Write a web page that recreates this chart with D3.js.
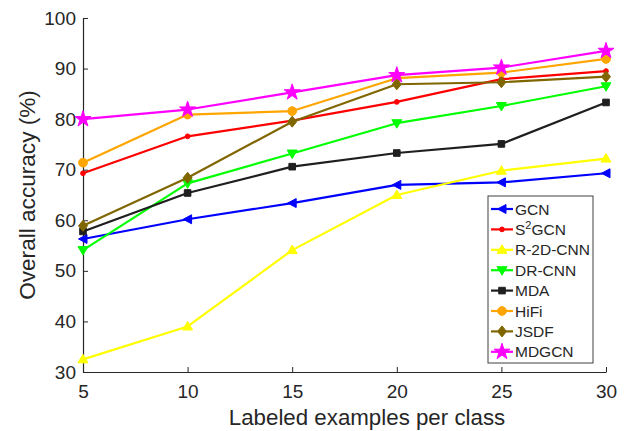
<!DOCTYPE html>
<html>
<head>
<meta charset="utf-8">
<script src="https://cdn.jsdelivr.net/npm/d3@7"></script>
<style>
  html, body { margin: 0; padding: 0; background: #fff; }
  svg { display: block; font-family: "Liberation Sans", Arial, Helvetica, sans-serif; }
</style>
</head>
<body>
<svg id="chart" width="628" height="431"></svg>
<script>
// Labeled examples per class
const samples = [5, 10, 15, 20, 25, 30];

// Overall accuracy (%) for each method
const gcn     = [56.3, 60.2, 63.4, 67.0, 67.5, 69.3];
const s2gcn   = [69.3, 76.6, 79.7, 83.4, 87.9, 89.5];
const r2dcnn  = [32.5, 39.0, 54.1, 65.0, 69.8, 72.2];
const drcnn   = [54.1, 67.3, 73.2, 79.2, 82.6, 86.5];
const mda     = [57.8, 65.4, 70.6, 73.3, 75.1, 83.3];
const hifi    = [71.4, 80.9, 81.6, 88.1, 89.2, 91.9];
const jsdf    = [58.9, 68.4, 79.5, 86.9, 87.3, 88.4];
const mdgcn   = [80.0, 81.9, 85.3, 88.7, 90.2, 93.5];

const xTicks = [5, 10, 15, 20, 25, 30];
const yTicks = [30, 40, 50, 60, 70, 80, 90, 100];

const series = [
  { name: "GCN",      values: gcn,    color: "#0000ff", marker: "left" },
  { name: "S2GCN",    values: s2gcn,  color: "#ff0000", marker: "dot" },
  { name: "R-2D-CNN", values: r2dcnn, color: "#ffff00", marker: "up" },
  { name: "DR-CNN",   values: drcnn,  color: "#00ff00", marker: "down" },
  { name: "MDA",      values: mda,    color: "#1f1f1f", marker: "square" },
  { name: "HiFi",     values: hifi,   color: "#ffa500", marker: "circle" },
  { name: "JSDF",     values: jsdf,   color: "#806600", marker: "diamond" },
  { name: "MDGCN",    values: mdgcn,  color: "#ff00ff", marker: "star" }
];

const svg = d3.select("#chart");
const margin = { left: 83, right: 22, top: 18, bottom: 59 };
const W = 628, H = 431;

const x = d3.scaleLinear().domain([5, 30]).range([margin.left, W - margin.right]);
const y = d3.scaleLinear().domain([30, 100]).range([H - margin.bottom, margin.top]);

const axisColor = "#262626";

// Axes with inward ticks
const xAxis = svg.append("g")
  .attr("transform", `translate(0,${y(30)})`)
  .call(d3.axisBottom(x).tickValues(xTicks).tickSizeInner(-5).tickSizeOuter(0).tickPadding(13));
const yAxis = svg.append("g")
  .attr("transform", `translate(${x(5)},0)`)
  .call(d3.axisLeft(y).tickValues(yTicks).tickSizeInner(-5).tickSizeOuter(0).tickPadding(7));

[xAxis, yAxis].forEach(g => {
  g.select(".domain").attr("stroke", axisColor).attr("stroke-width", 1.2);
  g.selectAll(".tick line").attr("stroke", axisColor).attr("stroke-width", 1);
  g.selectAll(".tick text")
    .attr("fill", axisColor)
    .style("font-size", "19px")
    .style("font-family", "'Liberation Sans', Arial, sans-serif");
});

// Axis titles
svg.append("text")
  .attr("x", 367)
  .attr("y", 425)
  .attr("text-anchor", "middle")
  .attr("fill", axisColor)
  .style("font-size", "22.3px")
  .text("Labeled examples per class");

svg.append("text")
  .attr("transform", `translate(35,${(y(30) + y(100)) / 2}) rotate(-90)`)
  .attr("text-anchor", "middle")
  .attr("fill", axisColor)
  .style("font-size", "22.6px")
  .text("Overall accuracy (%)");

// Marker shapes
function markerPath(type) {
  switch (type) {
    case "left":    return "M-4.5,0L4,-4.5L4,4.5Z";
    case "up":      return "M0,-5L5,3.5L-5,3.5Z";
    case "down":    return "M0,5L5,-3.5L-5,-3.5Z";
    case "square":  return "M-3.3,-3.3L3.3,-3.3L3.3,3.3L-3.3,3.3Z";
    case "diamond": return "M0,-5.5L4.5,0L0,5.5L-4.5,0Z";
    case "circle":  return d3.symbol(d3.symbolCircle, 60)();
    case "dot":     return d3.symbol(d3.symbolCircle, 18)();
    case "star":    return d3.symbol(d3.symbolStar, 80)();
  }
}

const line = d3.line().x((d, i) => x(samples[i])).y(d => y(d));

const plot = svg.append("g");
series.forEach(s => {
  const g = plot.append("g");
  g.append("path")
    .datum(s.values)
    .attr("fill", "none")
    .attr("stroke", s.color)
    .attr("stroke-width", 2.2)
    .attr("stroke-linejoin", "round")
    .attr("d", line);
  g.selectAll("path.m")
    .data(s.values)
    .join("path")
    .attr("class", "m")
    .attr("transform", (d, i) => `translate(${x(samples[i])},${y(d)})`)
    .attr("d", markerPath(s.marker))
    .attr("fill", s.color)
    .attr("stroke", s.color)
    .attr("stroke-width", 1);
});

// Legend
const lg = svg.append("g");
const lx = 488, ly = 196, lw = 105, lh = 167, rowH = 20.4;
lg.append("rect")
  .attr("x", lx).attr("y", ly).attr("width", lw).attr("height", lh)
  .attr("fill", "#fff").attr("stroke", "#404040").attr("stroke-width", 1);

series.forEach((s, i) => {
  const cy = ly + 13 + i * rowH;
  lg.append("line")
    .attr("x1", lx + 3).attr("x2", lx + 25).attr("y1", cy).attr("y2", cy)
    .attr("stroke", s.color).attr("stroke-width", 2.2);
  lg.append("path")
    .attr("transform", `translate(${lx + 14},${cy})`)
    .attr("d", markerPath(s.marker))
    .attr("fill", s.color).attr("stroke", s.color).attr("stroke-width", 1);
  const t = lg.append("text")
    .attr("x", lx + 27).attr("y", cy + 5.5)
    .attr("fill", axisColor)
    .style("font-size", "15.5px");
  if (s.name === "S2GCN") {
    t.append("tspan").text("S");
    t.append("tspan").attr("dy", -6).style("font-size", "11px").text("2");
    t.append("tspan").attr("dy", 6).text("GCN");
  } else {
    t.text(s.name);
  }
});
</script>
</body>
</html>
